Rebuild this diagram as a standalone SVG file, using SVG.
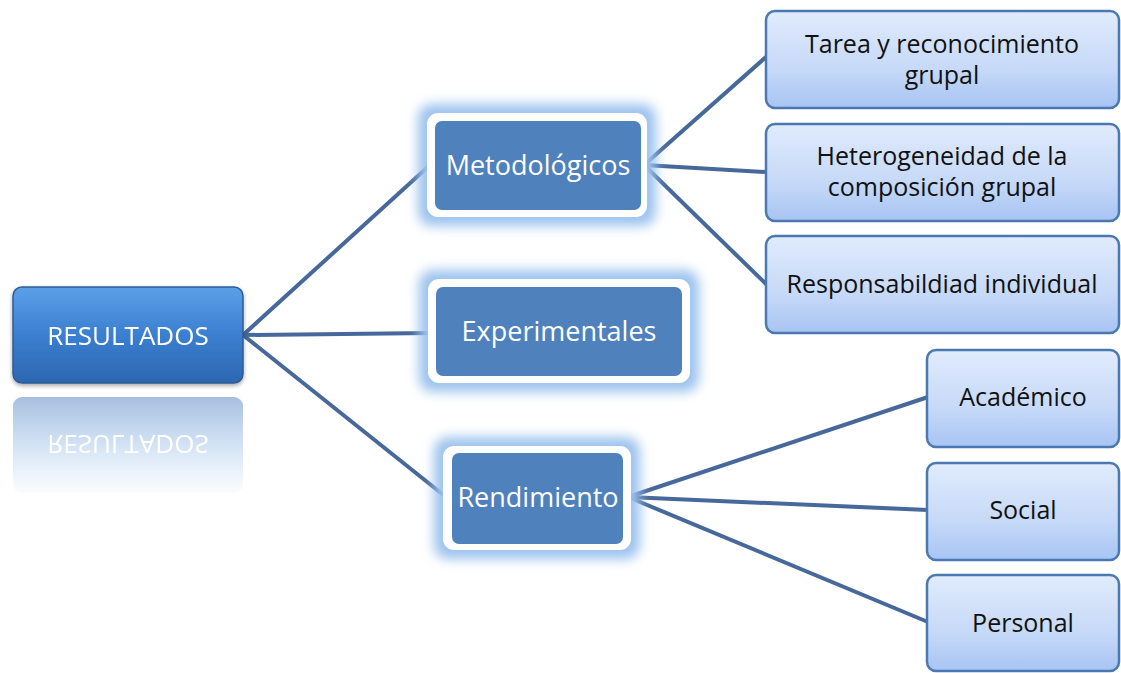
<svg xmlns="http://www.w3.org/2000/svg" xmlns:xlink="http://www.w3.org/1999/xlink" width="1121" height="673" viewBox="0 0 1121 673">
<defs>
<linearGradient id="gRoot" x1="0" y1="0" x2="0" y2="1">
<stop offset="0" stop-color="#5aa0e8"/>
<stop offset="0.5" stop-color="#3b7fd0"/>
<stop offset="1" stop-color="#2c67b0"/>
</linearGradient>
<linearGradient id="gLeaf" x1="0" y1="0" x2="0" y2="1">
<stop offset="0" stop-color="#e1ebfc"/>
<stop offset="0.6" stop-color="#c6d9f8"/>
<stop offset="1" stop-color="#a7c4f3"/>
</linearGradient>
<linearGradient id="gFade" x1="0" y1="0" x2="0" y2="1">
<stop offset="0" stop-color="#fff" stop-opacity="0.45"/>
<stop offset="1" stop-color="#fff" stop-opacity="0"/>
</linearGradient>
<mask id="mFade" maskUnits="userSpaceOnUse" x="0" y="390" width="260" height="110">
<rect x="0" y="390" width="260" height="110" fill="url(#gFade)"/>
</mask>
<filter id="glow" x="-20%" y="-30%" width="140%" height="160%">
<feGaussianBlur stdDeviation="6"/>
</filter>
<filter id="shadow" x="-10%" y="-10%" width="120%" height="130%">
<feGaussianBlur in="SourceAlpha" stdDeviation="2"/>
<feOffset dy="2"/>
<feComponentTransfer><feFuncA type="linear" slope="0.35"/></feComponentTransfer>
<feMerge><feMergeNode/><feMergeNode in="SourceGraphic"/></feMerge>
</filter>
</defs>
<style>
.conn{stroke:#47689a;stroke-width:4;fill:none;stroke-linecap:round}
.leaf rect{fill:url(#gLeaf);stroke:#4a78b0;stroke-width:2.5}
.lt{font-family:"Open Sans","Liberation Sans",sans-serif;font-size:25px;fill:#111;text-anchor:middle}
.wt{font-family:"Open Sans","Liberation Sans",sans-serif;font-size:27px;fill:#fff;text-anchor:middle}
.rt{font-family:"Open Sans","Liberation Sans",sans-serif;font-size:26px;fill:#fff;text-anchor:middle}
.glowr{fill:#9cc3ee;filter:url(#glow)}
.frame{fill:#fff}
.inner{fill:#4f81bd}
</style>
<rect width="1121" height="673" fill="#fff"/>
<g id="connectors">
<line class="conn" x1="243" y1="335" x2="430" y2="165"/>
<line class="conn" x1="243" y1="335" x2="432" y2="333"/>
<line class="conn" x1="243" y1="335" x2="446" y2="497"/>
<line class="conn" x1="644" y1="165" x2="766" y2="57"/>
<line class="conn" x1="644" y1="165" x2="766" y2="172"/>
<line class="conn" x1="644" y1="165" x2="766" y2="284"/>
<line class="conn" x1="628" y1="497" x2="928" y2="397"/>
<line class="conn" x1="628" y1="497" x2="928" y2="510"/>
<line class="conn" x1="628" y1="497" x2="928" y2="622"/>
</g>
<g id="node-resultados">
<g id="root-box" filter="url(#shadow)">
<rect x="13" y="287" width="230" height="96" rx="9" fill="url(#gRoot)" stroke="#2d5d98" stroke-width="1.5"/>
<text class="rt" x="128" y="345">RESULTADOS</text>
</g>
</g>
<g id="reflection" mask="url(#mFade)">
<g transform="translate(0,780) scale(1,-1)">
<rect x="13" y="287" width="230" height="96" rx="9" fill="url(#gRoot)"/>
<text class="rt" x="128" y="345">RESULTADOS</text>
</g>
</g>
<g id="node-metodologicos">
<rect class="glowr" x="418" y="104" width="238" height="122" rx="14"/>
<rect class="frame" x="427" y="113" width="220" height="104" rx="11"/>
<rect class="inner" x="435" y="121" width="206" height="89" rx="7"/>
<text class="wt" x="538" y="175">Metodológicos</text>
</g>
<g id="node-experimentales">
<rect class="glowr" x="419" y="270" width="280" height="122" rx="14"/>
<rect class="frame" x="428" y="279" width="262" height="104" rx="11"/>
<rect class="inner" x="436" y="287" width="246" height="89" rx="7"/>
<text class="wt" x="559" y="341">Experimentales</text>
</g>
<g id="node-rendimiento">
<rect class="glowr" x="434" y="437" width="206" height="122" rx="14"/>
<rect class="frame" x="443" y="446" width="188" height="104" rx="11"/>
<rect class="inner" x="452" y="453" width="171" height="91" rx="7"/>
<text class="wt" x="538" y="507">Rendimiento</text>
</g>
<g id="node-tarea" class="leaf">
<rect x="766" y="11" width="353" height="97" rx="9"/>
<text class="lt" x="942" y="53">Tarea y reconocimiento</text>
<text class="lt" x="942" y="84">grupal</text>
</g>
<g id="node-heterogeneidad" class="leaf">
<rect x="766" y="124" width="353" height="97" rx="9"/>
<text class="lt" x="942" y="165">Heterogeneidad de la</text>
<text class="lt" x="942" y="196">composición grupal</text>
</g>
<g id="node-responsabilidad" class="leaf">
<rect x="766" y="236" width="353" height="97" rx="9"/>
<text class="lt" x="942" y="293">Responsabildiad individual</text>
</g>
<g id="node-academico" class="leaf">
<rect x="927" y="350" width="192" height="97" rx="9"/>
<text class="lt" x="1023" y="406">Académico</text>
</g>
<g id="node-social" class="leaf">
<rect x="927" y="463" width="192" height="97" rx="9"/>
<text class="lt" x="1023" y="519">Social</text>
</g>
<g id="node-personal" class="leaf">
<rect x="927" y="575" width="192" height="96" rx="9"/>
<text class="lt" x="1023" y="632">Personal</text>
</g>
</svg>
